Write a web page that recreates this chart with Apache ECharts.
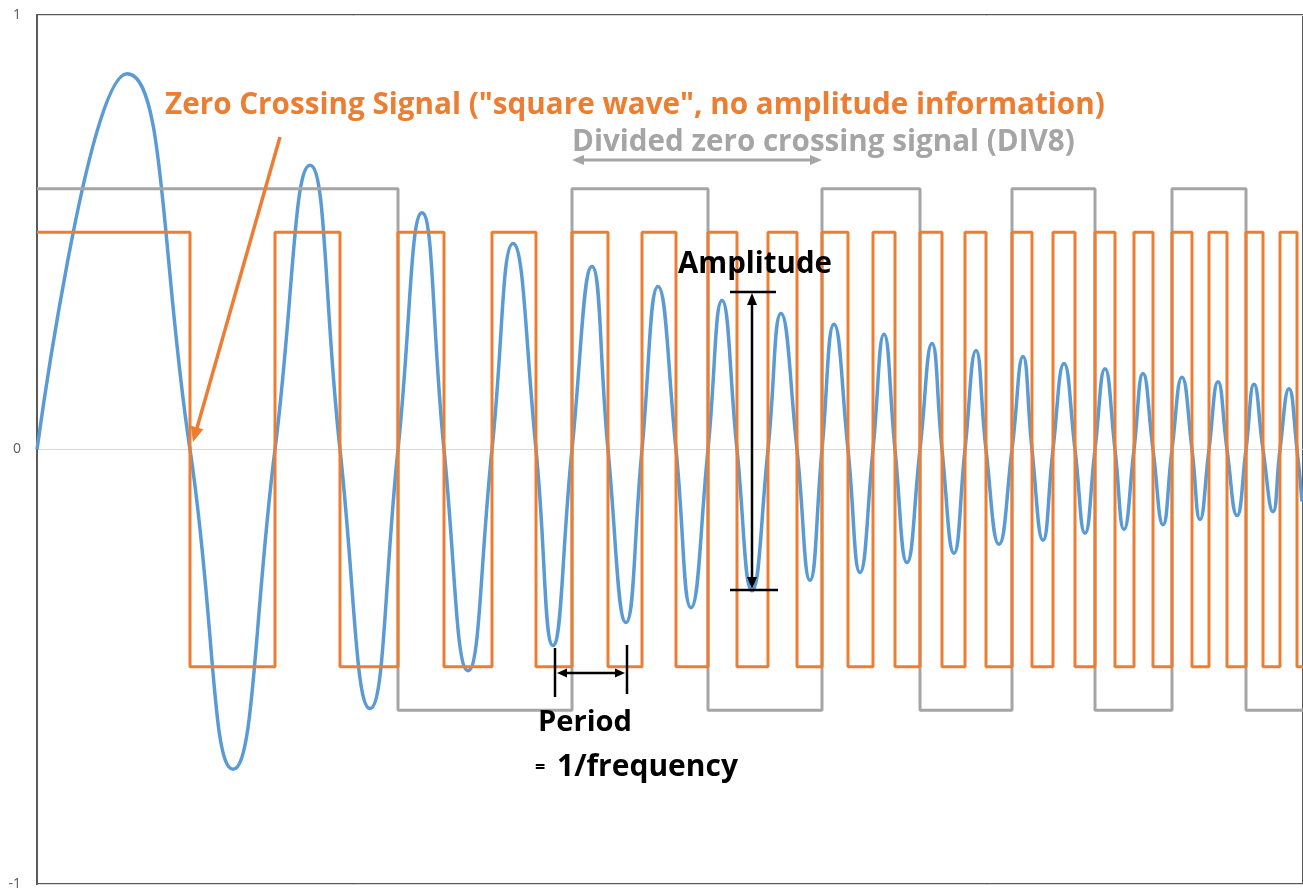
<!DOCTYPE html>
<html><head><meta charset="utf-8">
<script src="https://cdn.jsdelivr.net/npm/echarts@6/dist/echarts.min.js"></script>
<style>html,body{margin:0;padding:0;background:#fff}#c{width:1303px;height:894px}</style>
</head><body><div id="c"></div>
<script>
// ---- data (x in arbitrary time units, y in signal units) ----
const yTicks = [-1, 0, 1];
const xMax = 1266;
const orangeLevels = [0.5, -0.5];
const grayLevels = [0.6, -0.6];
// zero crossing times (edges of the square wave)
const orangeEdges = [153, 238, 303, 361, 407, 455, 499, 535, 571, 605, 639, 671, 700, 731, 760, 785,
  811, 836, 858, 883, 905, 928, 949, 975, 995, 1016, 1038, 1058, 1078, 1097, 1116, 1135,
  1155, 1172, 1190, 1209, 1226, 1243, 1260];
// divided (DIV8) signal edges
const grayEdges = [361, 535, 671, 785, 883, 975, 1058, 1135, 1209];
// sine peaks / troughs
const bluePeakX = [90, 196, 273, 333, 385, 431, 476, 516, 555, 589, 621, 654, 685, 715, 744, 773,
  797, 823, 847, 870, 895, 917, 939, 962, 986, 1006, 1027, 1048, 1068, 1087, 1106, 1126,
  1145, 1163, 1181, 1200, 1217, 1236, 1252];
const bluePeakY = [0.865, -0.736, 0.654, -0.596, 0.545, -0.509, 0.474, -0.451, 0.421, -0.398, 0.375, -0.364,
  0.343, -0.325, 0.313, -0.301, 0.288, -0.283, 0.265, -0.260, 0.244, -0.239, 0.228, -0.218,
  0.214, -0.209, 0.198, -0.193, 0.186, -0.184, 0.175, -0.173, 0.166, -0.161, 0.156, -0.152,
  0.150, -0.143, 0.140];
const blueStart = [0, 0];
const blueEnd = [1265, -0.12];

// ---- build series ----
function square(edges, levels) {
  let i = 0; const pts = [[0, levels[0]]];
  for (const e of edges) { pts.push([e, levels[i]]); i = 1 - i; pts.push([e, levels[i]]); }
  pts.push([xMax, levels[i]]);
  return pts;
}
const blue = [blueStart];
for (let k = 0; k < bluePeakX.length; k++) {
  blue.push([bluePeakX[k], bluePeakY[k]]);
  blue.push([orangeEdges[k], 0]);
}
blue.push(blueEnd);

// ---- text fitting ----
const cv = document.createElement('canvas').getContext('2d');
function fit(text, w, family) {
  cv.font = 'bold 100px ' + family;
  return 100 * w / cv.measureText(text).width;
}
const FAM = '"Open Sans"';
function txt(text, x1, x2, cy, color) {
  const fs = fit(text, x2 - x1, FAM);
  return { type: 'text', x: x1, y: cy, z: 100,
    style: { text, fill: color, font: 'bold ' + fs.toFixed(2) + 'px ' + FAM, textVerticalAlign: 'middle', textAlign: 'left' } };
}
function arrowHead(x1, y1, x2, y2, color, len, wid) {
  const dx = x2 - x1, dy = y2 - y1, L = Math.hypot(dx, dy), ux = dx / L, uy = dy / L;
  const bx = x2 - ux * len, by = y2 - uy * len;
  return { type: 'polygon', z: 100, shape: { points: [[x2, y2], [bx - uy * wid / 2, by + ux * wid / 2], [bx + uy * wid / 2, by - ux * wid / 2]] }, style: { fill: color } };
}
function arrow(x1, y1, x2, y2, color, lw, startHead, endHead, len, wid) {
  const els = [];
  const dx = x2 - x1, dy = y2 - y1, L = Math.hypot(dx, dy), ux = dx / L, uy = dy / L;
  const sx = startHead ? x1 + ux * len * 0.8 : x1, sy = startHead ? y1 + uy * len * 0.8 : y1;
  const ex = endHead ? x2 - ux * len * 0.8 : x2, ey = endHead ? y2 - uy * len * 0.8 : y2;
  els.push({ type: 'line', z: 100, shape: { x1: sx, y1: sy, x2: ex, y2: ey }, style: { stroke: color, lineWidth: lw } });
  if (endHead) els.push(arrowHead(x1, y1, x2, y2, color, len, wid));
  if (startHead) els.push(arrowHead(x2, y2, x1, y1, color, len, wid));
  return els;
}
function seg(x1, y1, x2, y2, color, lw) {
  return { type: 'line', z: 100, shape: { x1, y1, x2, y2 }, style: { stroke: color, lineWidth: lw } };
}

const ORANGE = '#ED7D31', GRAY = '#A5A5A5', BLUE = '#5B9BD5', BLACK = '#000000';
const eqFs = fit('1/frequency', 738 - 557, FAM);
const graphic = [
  txt('Zero Crossing Signal ("square wave", no amplitude information)', 165, 1105, 106, ORANGE),
  ...arrow(280, 137, 193, 442, ORANGE, 3.5, false, true, 15, 13),
  txt('Divided zero crossing signal (DIV8)', 572, 1075, 143, GRAY),
  ...arrow(572, 160, 822, 160, GRAY, 3, true, true, 12, 10),
  txt('Amplitude', 678, 832, 265, BLACK),
  ...arrow(752, 293, 752, 589, BLACK, 2.5, true, true, 12, 10),
  seg(730, 292, 776, 292, BLACK, 2.5),
  seg(730, 590, 778, 590, BLACK, 2.5),
  seg(555, 648, 555, 697, BLACK, 2.5),
  seg(627, 645, 627, 694, BLACK, 2.5),
  ...arrow(557, 673, 625, 673, BLACK, 2.5, true, true, 10, 9),
  txt('Period', 538, 632, 723, BLACK),
  { type: 'text', x: 535, y: 768, z: 100, style: { text: '=', fill: BLACK, font: 'bold ' + (eqFs * 0.6).toFixed(1) + 'px ' + FAM, textVerticalAlign: 'middle' } },
  txt('1/frequency', 557, 738, 767, BLACK)
];

const chart = echarts.init(document.getElementById('c'), null, { renderer: 'canvas' });
chart.setOption({
  animation: false,
  backgroundColor: '#ffffff',
  grid: { left: 37, top: 15, right: -2, bottom: 10, show: true, borderColor: '#595959', borderWidth: 2 },
  xAxis: { type: 'value', min: 0, max: xMax, show: false },
  yAxis: {
    type: 'value', min: yTicks[0], max: yTicks[yTicks.length - 1], interval: 1,
    axisLine: { show: true, lineStyle: { color: '#595959', width: 2 } },
    axisTick: { show: false },
    axisLabel: { color: '#595959', fontSize: 14, margin: 16, fontFamily: FAM },
    splitLine: { show: true, lineStyle: { color: '#D9D9D9', width: 1 } }
  },
  series: [
    { type: 'line', data: blue, smooth: 0.5, showSymbol: false, lineStyle: { color: BLUE, width: 3.5 }, z: 2 },
    { type: 'line', data: square(grayEdges, grayLevels), showSymbol: false, lineStyle: { color: GRAY, width: 3 }, z: 3 },
    { type: 'line', data: square(orangeEdges, orangeLevels), showSymbol: false, lineStyle: { color: ORANGE, width: 3 }, z: 4 }
  ],
  graphic
});
</script></body></html>
